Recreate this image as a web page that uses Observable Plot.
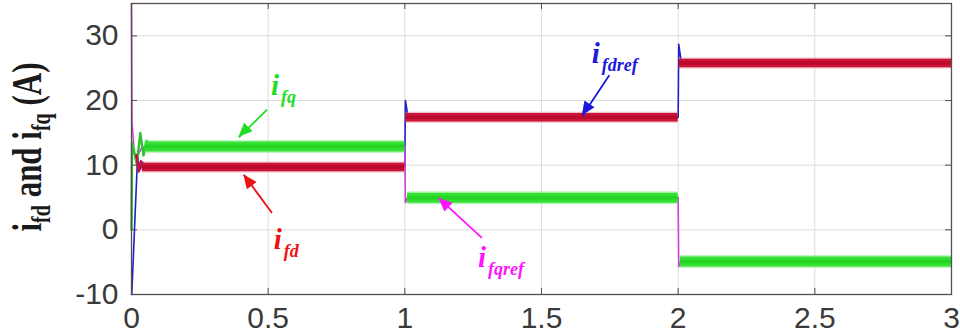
<!DOCTYPE html>
<html><head><meta charset="utf-8">
<script src="https://cdn.jsdelivr.net/npm/d3@7"></script>
<script src="https://cdn.jsdelivr.net/npm/@observablehq/plot@0.6"></script>
<style>body{margin:0;background:#fff}</style>
</head><body><div id="chart"></div>
<script>
// ---- ticks ----
const xTicks = [0, 0.5, 1, 1.5, 2, 2.5, 3];
const xTickLabels = ["0", "0.5", "1", "1.5", "2", "2.5", "3"];
const yTicks = [-10, 0, 10, 20, 30];
const yTickLabels = ["-10", "0", "10", "20", "30"];

// ---- reference currents (thin traces, visible at transients) ----
const ifdrefT = [0, 0.001, 0.022, 0.03, 0.04, 0.05, 0.07, 1.0, 1.002, 1.012, 2.0, 2.002, 2.012, 3.0];
const ifdrefV = [-10, -10, 11.2, 9.2, 10.5, 9.6, 9.8, 9.8, 20.0, 17.4, 17.4, 28.7, 25.8, 25.8];
const ifqrefT = [0, 0.002, 0.01, 0.018, 0.026, 0.036, 0.05, 1.0, 1.002, 1.01, 2.0, 2.002, 2.01, 3.0];
const ifqrefV = [35, 16.5, 12.0, 10.3, 11.8, 12.6, 12.9, 12.9, 4.2, 5.0, 5.0, -5.7, -4.9, -4.9];

// ---- measured currents: start-up transients ----
const ifdT = [0.018, 0.026, 0.034, 0.042, 0.05, 0.06];
const ifdV = [11.6, 9.0, 10.6, 9.3, 10.1, 9.7];
const ifqT = [0, 0.002, 0.01, 0.02, 0.032, 0.044, 0.055, 0.068];
const ifqV = [0, 13.5, 12.0, 10.2, 15.0, 11.5, 13.8, 12.9];

// ---- measured currents: steady (noisy) levels per interval ----
const ifdLevels = [9.7, 17.4, 25.8];
const ifdStart = [0.04, 1.004, 2.004];
const ifdEnd = [1.0, 2.0, 3.0];
const ifqLevels = [12.9, 4.96, -4.9];
const ifqStart = [0.05, 1.01, 2.008];
const ifqEnd = [1.0, 2.0, 3.0];

// ---- annotations ----
const annSub = ["fq", "fd", "fdref", "fqref"];
const annColor = ["#22dd22", "#ee1111", "#1a1ad8", "#ff14ff"];
const annX = [0.51, 0.52, 1.684, 1.268];
const annY = [20.9, -3.0, 25.8, -5.8];
const arrX1 = [0.496, 0.514, 1.748, 1.282];
const arrY1 = [18.6, 2.6, 23.9, -1.24];
const arrX2 = [0.393, 0.411, 1.649, 1.124];
const arrY2 = [14.3, 8.5, 17.6, 4.9];

const idx = n => Array.from({length: n}, (_, i) => i);
const tickFont = "Liberation Sans, Arial, sans-serif";
const serif = "Liberation Serif, Times New Roman, serif";

const W = 960, H = 336, mL = 131, mR = 9, mT = 3, mB = 42;
const pw = W - mL - mR, ph = H - mT - mB;

const band = (levels, start, end, stroke, width, opacity) =>
  Plot.ruleY(idx(levels.length), {y: i => levels[i], x1: i => start[i], x2: i => end[i], stroke, strokeWidth: width, strokeOpacity: opacity});

const chart = Plot.plot({
  width: W, height: H,
  marginLeft: mL, marginRight: mR, marginTop: mT, marginBottom: mB,
  x: {domain: [0, 3]},
  y: {domain: [-10, 35]},
  style: {background: "#fff"},
  marks: [
    Plot.gridX(xTicks, {stroke: "#dcdcdc", strokeOpacity: 1}),
    Plot.gridY(yTicks, {stroke: "#dcdcdc", strokeOpacity: 1}),
    // reference traces
    Plot.line(idx(ifdrefT.length), {x: i => ifdrefT[i], y: i => ifdrefV[i], stroke: "#2020c8", strokeWidth: 1.6}),
    Plot.line(idx(ifqrefT.length), {x: i => ifqrefT[i], y: i => ifqrefV[i], stroke: "#d040d8", strokeWidth: 1.6}),
    // start-up transients of measured currents
    Plot.line(idx(ifqT.length), {x: i => ifqT[i], y: i => ifqV[i], stroke: "#30c030", strokeWidth: 2.4}),
    Plot.line(idx(ifdT.length), {x: i => ifdT[i], y: i => ifdV[i], stroke: "#c01040", strokeWidth: 2.4}),
    // noisy steady bands (soft halo + body + core)
    band(ifqLevels, ifqStart, ifqEnd, "#7cf07c", 13, 0.5),
    band(ifqLevels, ifqStart, ifqEnd, "#33e033", 10, 1),
    band(ifqLevels, ifqStart, ifqEnd, "#1fcf1f", 4, 0.7),
    band(ifdLevels, ifdStart, ifdEnd, "#e07088", 11, 0.45),
    band(ifdLevels, ifdStart, ifdEnd, "#cc1438", 8.5, 1),
    band(ifdLevels, ifdStart, ifdEnd, "#b0062c", 3.5, 0.7),
    // frame + inward ticks
    Plot.frame({stroke: "#505050", strokeWidth: 1.3}),
    Plot.tickX(xTicks, {x: d => d, insetTop: ph - 6, stroke: "#505050"}),
    Plot.tickX(xTicks, {x: d => d, insetBottom: ph - 6, stroke: "#505050"}),
    Plot.tickY(yTicks, {y: d => d, insetRight: pw - 6, stroke: "#505050"}),
    Plot.tickY(yTicks, {y: d => d, insetLeft: pw - 6, stroke: "#505050"}),
    // axes labels
    Plot.axisX(xTicks, {anchor: "bottom", tickSize: 0, tickPadding: 12, tickFormat: (d, i) => xTickLabels[i], fontSize: 30, fontFamily: tickFont, fill: "#3a3a3a", label: null}),
    Plot.axisY(yTicks, {anchor: "left", tickSize: 0, tickPadding: 13, tickFormat: (d, i) => yTickLabels[i], fontSize: 30, fontFamily: tickFont, fill: "#3a3a3a", label: null}),
    // annotation arrows (shafts)
    Plot.link(idx(4), {x1: i => arrX1[i], y1: i => arrY1[i], x2: i => arrX2[i], y2: i => arrY2[i], stroke: i => annColor[i], strokeWidth: 1.8}),
    // annotation labels
    Plot.text(idx(4), {x: i => annX[i], y: i => annY[i], text: () => "i", fill: i => annColor[i], fontSize: 29, fontWeight: "bold", fontStyle: "italic", fontFamily: serif, textAnchor: "start", lineAnchor: "bottom"}),
    Plot.text(idx(4), {x: i => annX[i], y: i => annY[i], text: i => annSub[i], fill: i => annColor[i], fontSize: 18, fontWeight: "bold", fontStyle: "italic", fontFamily: serif, textAnchor: "start", lineAnchor: "bottom", dx: 10, dy: 8})
  ]
});

document.getElementById("chart").appendChild(chart);

// filled arrow heads, positioned through Plot's scales
const sx = chart.scale("x"), sy = chart.scale("y");
const svg = d3.select(chart);
idx(4).forEach(i => {
  const x1 = sx.apply(arrX1[i]), y1 = sy.apply(arrY1[i]);
  const x2 = sx.apply(arrX2[i]), y2 = sy.apply(arrY2[i]);
  const a = Math.atan2(y2 - y1, x2 - x1), L = 14, hw = 6;
  const bx = x2 - L * Math.cos(a), by = y2 - L * Math.sin(a);
  const px = -Math.sin(a) * hw, py = Math.cos(a) * hw;
  svg.append("polygon")
    .attr("points", `${x2},${y2} ${bx + px},${by + py} ${bx - px},${by - py}`)
    .attr("fill", annColor[i]);
});

// y-axis title with subscripts
const t = svg.append("text")
  .attr("transform", "translate(41,147) rotate(-90) scale(1,1.35)")
  .attr("text-anchor", "middle")
  .attr("font-family", serif).attr("font-weight", "bold")
  .attr("font-size", 31).attr("fill", "#1a1a1a");
t.append("tspan").text("i");
t.append("tspan").attr("font-size", 20).attr("dy", 7).text("fd");
t.append("tspan").attr("dy", -7).text(" and i");
t.append("tspan").attr("font-size", 20).attr("dy", 7).text("fq");
t.append("tspan").attr("dy", -7).text(" (A)");
</script>
</body></html>
